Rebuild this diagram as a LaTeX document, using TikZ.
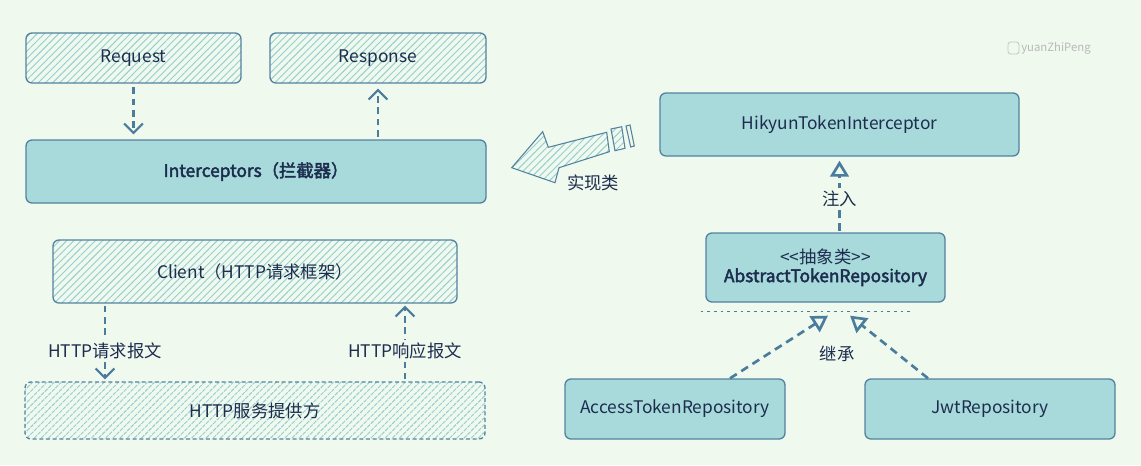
\documentclass[tikz,border=0pt]{standalone}
\usepackage{fontspec}
\setmainfont{Noto Sans CJK SC}[AutoFakeBold=2.5]
\usetikzlibrary{positioning, arrows.meta, calc, patterns.meta}
\definecolor{bgmint}{RGB}{240,249,238}
\definecolor{boxfill}{RGB}{168,217,219}
\definecolor{hatchcol}{RGB}{150,205,208}
\definecolor{edgecol}{RGB}{82,130,160}
\definecolor{arrowcol}{RGB}{74,124,156}
\definecolor{inkcol}{RGB}{28,45,78}
\tikzset{
  solidbox/.style={draw=edgecol, line width=1pt, rounded corners=4.5pt, fill=boxfill,
    text=inkcol, inner sep=0pt, font=\fontsize{13}{15}\selectfont},
  hatchbox/.style={solidbox, fill=bgmint,
    pattern={Lines[angle=45,distance=3.8pt,line width=0.7pt]}, pattern color=hatchcol},
  flowarrow/.style={draw=arrowcol, line width=1.6pt, dash pattern=on 5pt off 3.5pt,
    -{Straight Barb[length=7pt,width=14pt]}},
  inherit/.style={flowarrow, line width=2pt, dash pattern=on 6pt off 4pt,
    -{Triangle[open,length=12pt,width=14pt,fill=bgmint]}},
  note/.style={text=inkcol, font=\fontsize{13}{15}\selectfont, fill=bgmint, inner sep=2pt}
}

\begin{document}
\begin{tikzpicture}[x=0.75pt, y=-0.75pt]
% canvas
\fill[bgmint] (0,0) rectangle (1141,465);
\useasboundingbox (0,0) rectangle (1141,465);

% left column: request flow
\node[hatchbox, minimum width=161.25pt, minimum height=37.5pt] (req) at (133.5,58) {Request};
\node[hatchbox, minimum width=162pt, minimum height=37.5pt] (resp) at (378,58) {Response};
\node[solidbox, minimum width=345pt, minimum height=47.25pt, font=\fontsize{13}{15}\selectfont\bfseries] (icpt) at (256,171.5) {Interceptors（拦截器）};

\draw[flowarrow, shorten <=3pt, shorten >=3.75pt] (req.south) -- (req.south |- icpt.north);
\draw[flowarrow, shorten <=2pt, shorten >=3.75pt] (resp.south |- icpt.north) -- (resp.south);

% client and server
\node[hatchbox, minimum width=303pt, minimum height=47.25pt] (client) at (255,271.5) {Client（HTTP请求框架）};
\node[hatchbox, dash pattern=on 3pt off 2pt, minimum width=345pt, minimum height=42.75pt] (server) at (255,410.5) {HTTP服务提供方};

\coordinate (sendpt) at ($(client.south)+(-150,0)$);
\coordinate (backpt) at ($(client.south)+(150,0)$);
\draw[flowarrow, shorten <=1.5pt, shorten >=1.5pt] (sendpt) -- (sendpt |- server.north)
  node[note, pos=0.61] (sendlbl) {HTTP请求报文};
\draw[flowarrow, shorten <=1.5pt, shorten >=1.5pt] (backpt |- server.north) -- (backpt)
  node[note, pos=0.39] (backlbl) {HTTP响应报文};

% big hatched arrow
\draw[edgecol, line width=0.8pt, pattern={Lines[angle=45,distance=3.8pt,line width=0.7pt]}, pattern color=hatchcol]
  (511.7,167.7) -- (542.7,131.7) -- (548.3,147.3) -- (606.7,132.3) -- (609.3,151.7)
  -- (559,167.7) -- (555,182.7) -- cycle;
\draw[edgecol, line width=0.8pt, pattern={Lines[angle=45,distance=3.8pt,line width=0.7pt]}, pattern color=hatchcol]
  (611,129) -- (621.7,126.7) -- (625,148.3) -- (615,150.7) -- cycle;
\draw[edgecol, line width=0.8pt] (626,126) -- (630,125) -- (634.3,146) -- (630.7,147) -- cycle;
\node[note, fill=none] (impl) at (593,183) {实现类};

% right column: token classes
\node[solidbox, minimum width=269.25pt, minimum height=47.25pt] (hikyun) at (839.5,124.5) {HikyunTokenInterceptor};
\node[solidbox, minimum width=179.25pt, minimum height=51.75pt, align=center] (abstok) at (825.5,267.5)
  {<{}<抽象类>{}>\\[-1pt]{\bfseries AbstractTokenRepository}};
\node[solidbox, minimum width=165pt, minimum height=45pt] (access) at (675,409) {AccessTokenRepository};
\node[solidbox, minimum width=187.5pt, minimum height=45pt] (jwt) at (990,409) {JwtRepository};

\draw[inherit, shorten <=0.75pt, shorten >=3pt] (hikyun.south |- abstok.north) -- (hikyun.south)
  node[note, pos=0.44] (inject) {注入};

\draw[arrowcol, line width=1.2pt, dash pattern=on 2pt off 3pt]
  ($(abstok.south)+(-125,9)$) -- ($(abstok.south)+(88,9)$);
\draw[inherit] ($(access.north)+(55,0)$) -- ($(abstok.south)+(2.5,13)$);
\draw[inherit] ($(jwt.north)+(-62,0)$) -- ($(abstok.south)+(24.5,13)$);
\node[note, fill=none] (extend) at (837,354) {继承};

% watermark
\draw[gray!45, line width=0.6pt, rounded corners=2pt] (1008,42) rectangle (1019,54);
\node[text=gray!55, font=\fontsize{8.5}{10}\selectfont, anchor=west, inner sep=0pt] (mark) at (1021,48) {yuanZhiPeng};
\end{tikzpicture}
\end{document}
